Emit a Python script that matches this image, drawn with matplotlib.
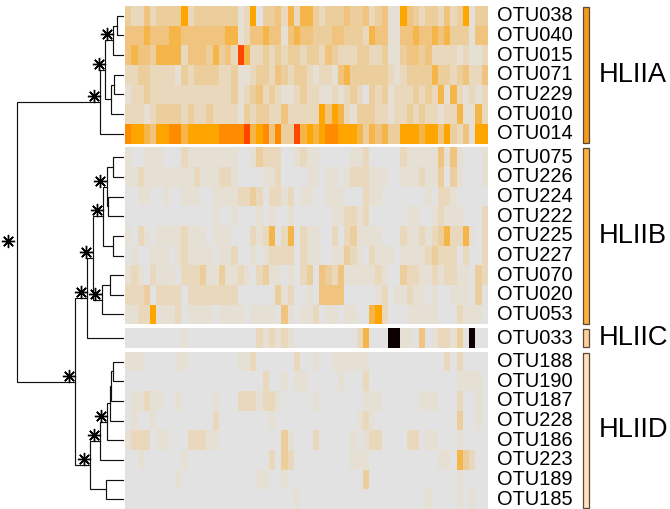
import numpy as np
import matplotlib
matplotlib.use('Agg')
import matplotlib.pyplot as plt
import matplotlib.transforms as mtransforms
from matplotlib.colors import ListedColormap
from matplotlib.patches import Rectangle

plt.rcParams['font.family'] = ['Liberation Sans', 'DejaVu Sans']

# OTUs of each clade, top to bottom
hliia_otus = ['OTU038', 'OTU040', 'OTU015', 'OTU071', 'OTU229', 'OTU010', 'OTU014']
hliib_otus = ['OTU075', 'OTU226', 'OTU224', 'OTU222', 'OTU225', 'OTU227',
              'OTU070', 'OTU020', 'OTU053']
hliic_otus = ['OTU033']
hliid_otus = ['OTU188', 'OTU190', 'OTU187', 'OTU228', 'OTU186', 'OTU223',
              'OTU189', 'OTU185']

# abundance level per sample (0 = absent ... 9 = highest), one string per OTU
hliia_rows = [
    '3224233336' '2333333312' '6033425255' '3233343342' '3411643233' '24236133',
    '4445444554' '4444445512' '4454414544' '3334433325' '4411445445' '45333144',
    '4544355552' '4443534285' '2232323323' '3243222332' '2311344342' '22212112',
    '2233222213' '2333322311' '2332432332' '1221453333' '3321233335' '33234224',
    '1223222222' '2222222312' '3423211232' '2112123203' '2312223232' '51521212',
    '2221233332' '3223222213' '2332242222' '2646521333' '2212232322' '12251152',
    '7665466775' '6666677778' '5674733856' '5677666535' '4533666566' '46324166',
]
hliib_rows = [
    '1001110002' '1111111100' '1322200121' '1000001120' '0000211111' '41410001',
    '1121111111' '1211122100' '0011200001' '1011012221' '1100111211' '30310001',
    '0011001001' '1100111122' '3202212011' '0011100021' '1000000010' '22100000',
    '0000000000' '0000100100' '0101001000' '0001122120' '0000011001' '21110002',
    '1021011112' '1110111000' '2125025021' '1002023111' '1000211212' '35225102',
    '0100111012' '1111011200' '1012222021' '1001132102' '1110111123' '22202002',
    '1210211102' '2231131121' '0231101023' '0432411111' '2100322112' '12211032',
    '2223022220' '2222222200' '0000312001' '0444400000' '1201121101' '00111030',
    '1122611120' '1111011110' '1111041011' '2011011005' '6200011111' '00021110',
]
hliic_rows = [
    '0000000001' '0000000000' '0212121000' '0000000250' '0099110401' '22130900',
]
hliid_rows = [
    '1110000011' '0000000011' '2000000200' '1001111110' '0000000000' '02020000',
    '0000000000' '0000000000' '0020010110' '0000100020' '0000000000' '00011110',
    '0112110010' '0000100022' '2122100000' '1000000011' '1000000111' '00020010',
    '0100100000' '0000200000' '0001000000' '0000000121' '0000000000' '00030010',
    '1222011000' '2221100000' '0000031000' '2000001012' '2000022011' '00010000',
    '0010000001' '0000000000' '0002032000' '0000001110' '0000000000' '11053200',
    '0000000010' '0000000000' '0110010000' '0000000030' '0000000000' '00010000',
    '0000000000' '0000000000' '0000000100' '0000000000' '0000000010' '00010100',
]
n_samples = 58

group_names = ['HLIIA', 'HLIIB', 'HLIIC', 'HLIID']
group_colors = ['#f59b1c', '#fcb03e', '#fdcf9c', '#ffe2bf']

# UPGMA-style tree: (height, left, right, supported)
tree = (1.0,
        (0.219,
         (0.169,
          (0.097, (0.062, 'OTU038', 'OTU040', False), 'OTU015', True),
          (0.115, (0.084, 'OTU071', 'OTU229', False), 'OTU010', False),
          True),
         'OTU014', True),
        (0.45,
         (0.338,
          (0.287,
           (0.188,
            (0.156, (0.094, 'OTU075', 'OTU226', False),
             (0.141, 'OTU224', 'OTU222', False), True),
            (0.094, 'OTU225', 'OTU227', False), True),
           (0.203, (0.125, 'OTU070', 'OTU020', False), 'OTU053', True),
           True),
          'OTU033', True),
         (0.312,
          (0.219,
           (0.15,
            (0.125, (0.113, (0.099, 'OTU188', 'OTU190', False), 'OTU187', False),
             'OTU228', False),
            'OTU186', True),
           'OTU223', True),
          (0.162, 'OTU189', 'OTU185', False),
          True),
         True),
        True)

level_colors = ['#e2e2e2', '#e6e0d4', '#e9d8bb', '#ecce9d', '#f0c47e',
                '#f5b548', '#ffa500', '#ff8c00', '#ff4500', '#0c0000']
cmap = ListedColormap(level_colors)

groups = [(hliia_otus, hliia_rows), (hliib_otus, hliib_rows),
          (hliic_otus, hliic_rows), (hliid_otus, hliid_rows)]
gap = 0.2

# row layout: each group starts after the previous one plus a gap
starts = []
pos = 0.0
for otus, rows in groups:
    starts.append(pos)
    pos += len(otus) + gap
total = pos - gap

leaf_y = {}
for (otus, rows), s in zip(groups, starts):
    for i, name in enumerate(otus):
        leaf_y[name] = s + i + 0.5

W, H = 670, 509
fig = plt.figure(figsize=(W / 100, H / 100), dpi=100)
top_px, bot_px = 6, 509
ax_bottom = (H - bot_px) / H
ax_height = (bot_px - top_px) / H

ax_heat = fig.add_axes([125 / W, ax_bottom, 363 / W, ax_height])
ax_tree = fig.add_axes([0, ax_bottom, 125 / W, ax_height])
ax_lab = fig.add_axes([488 / W, ax_bottom, 182 / W, ax_height])

# heatmap, one block per clade
xedges = np.arange(n_samples + 1)
for (otus, rows), s in zip(groups, starts):
    z = np.array([[int(c) for c in r] for r in rows])
    yedges = s + np.arange(len(otus) + 1)
    ax_heat.pcolormesh(xedges, yedges, z, cmap=cmap, vmin=-0.5, vmax=9.5,
                       shading='flat', antialiased=False)
ax_heat.set_xlim(0, n_samples)
ax_heat.set_ylim(total, 0)
ax_heat.axis('off')

# dendrogram
stars = []


def draw_clade(node):
    if isinstance(node, str):
        return 0.0, leaf_y[node]
    h, left, right, supported = node
    hl, yl = draw_clade(left)
    hr, yr = draw_clade(right)
    ax_tree.plot([hl, h, h, hr], [yl, yl, yr, yr], color='#111111', lw=0.85,
                 solid_joinstyle='miter')
    y = (yl + yr) / 2
    if supported:
        stars.append((h, y))
    return h, y


root_h, root_y = draw_clade(tree)

star_off = mtransforms.offset_copy(ax_tree.transData, fig=fig, x=-6.3, y=6, units='dots')
root_off = mtransforms.offset_copy(ax_tree.transData, fig=fig, x=-9, y=1, units='dots')
for h, y in stars:
    tr = root_off if h == root_h else star_off
    ax_tree.plot(h, y, marker=(8, 2, 0), ms=9.5, mew=1.0, color='black',
                 transform=tr, clip_on=False)

ax_tree.set_xlim(1.1566, -0.0159)
ax_tree.set_ylim(total, 0)
ax_tree.axis('off')

# OTU labels, clade bars and clade names
ax_lab.set_xlim(488, 670)
ax_lab.set_ylim(total, 0)
ax_lab.axis('off')
for (otus, rows), s, gname, gcol in zip(groups, starts, group_names, group_colors):
    for name in otus:
        ax_lab.text(497, leaf_y[name], name, ha='left', va='center',
                    fontsize=14.4, color='black')
    ax_lab.add_patch(Rectangle((582.5, s + 0.04), 6.5, len(otus) - 0.08,
                               facecolor=gcol, edgecolor='#5a4838', lw=0.9))
    ax_lab.text(599, s + len(otus) / 2, gname, ha='left', va='center',
                fontsize=19.6, color='black')

fig.savefig('out.png', dpi=100)
